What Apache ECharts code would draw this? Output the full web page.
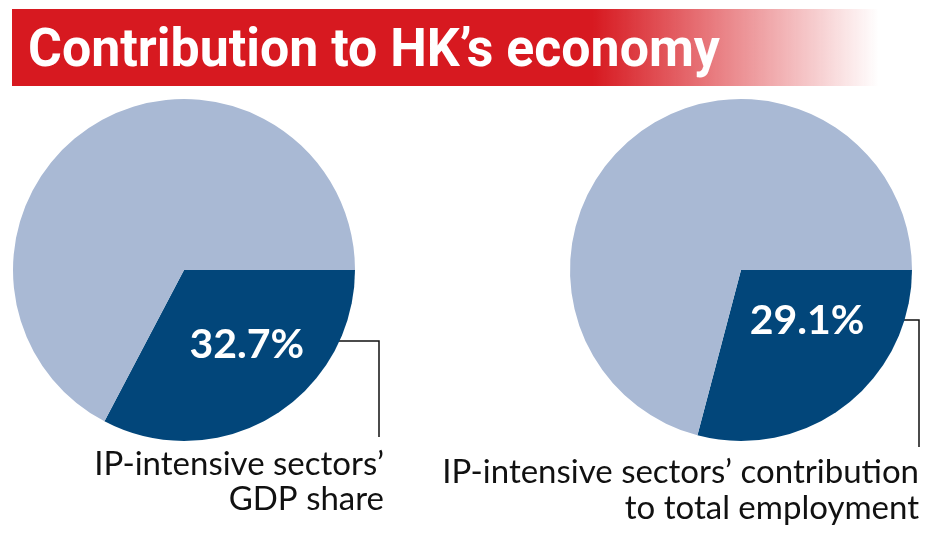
<!DOCTYPE html>
<html><head><meta charset="utf-8">
<script src="https://cdn.jsdelivr.net/npm/echarts@6/dist/echarts.min.js"></script>
<style>html,body{margin:0;padding:0;background:#fff}#c{width:936px;height:536px}</style>
</head><body><div id="c"></div>
<script>
const titleText = "Contribution to HK’s economy";
const sliceNames = ["IP-intensive sectors", "Other sectors"];
const gdpShare = [32.7, 67.3];
const employmentShare = [29.1, 70.9];
const gdpCaption = ["IP-intensive sectors’", "GDP share"];
const employmentCaption = ["IP-intensive sectors’ contribution", "to total employment"];
const sliceColors = ["#02467a", "#a9b9d4"];

const chart = echarts.init(document.getElementById('c'), null, {renderer: 'canvas'});

function pieSeries(values, center, labelOffset) {
  return {
    type: 'pie',
    center: center,
    radius: 171,
    startAngle: 0,
    clockwise: true,
    silent: true,
    animation: false,
    avoidLabelOverlap: false,
    labelLine: {show: false},
    data: values.map((v, i) => ({
      name: sliceNames[i],
      value: v,
      itemStyle: {color: sliceColors[i], borderWidth: 0},
      label: i === 0 ? {
        show: true, position: 'inside', formatter: '{c}%',
        color: '#fff', fontFamily: 'Lato', fontWeight: 'bold', fontSize: 41,
        offset: labelOffset
      } : {show: false}
    }))
  };
}

chart.setOption({
  animation: false,
  graphic: [
    {type: 'rect', shape: {x: 12, y: 9, width: 880, height: 77},
     style: {fill: new echarts.graphic.LinearGradient(0, 0, 1, 0, [
       {offset: 0, color: '#d71920'}, {offset: 0.66, color: '#d71920'},
       {offset: 0.82, color: 'rgba(215,25,32,0.5)'},
       {offset: 0.985, color: 'rgba(215,25,32,0)'},
       {offset: 1, color: 'rgba(215,25,32,0)'}])}},
    {type: 'text', x: 27, y: 52, scaleX: 0.96, originX: 27, originY: 52,
     style: {text: titleText, fill: '#fff', verticalAlign: 'middle', font: 'bold 54px Roboto, sans-serif'}},
    {type: 'polyline', shape: {points: [[318, 341], [379, 341], [379, 437]]}, style: {stroke: '#111', lineWidth: 1.5, fill: null}},
    {type: 'polyline', shape: {points: [[875, 320], [919, 320], [919, 447]]}, style: {stroke: '#111', lineWidth: 1.5, fill: null}},
    {type: 'text', x: 384, y: 447,
     style: {text: gdpCaption.join('\n'), fill: '#111', align: 'right', verticalAlign: 'top', lineHeight: 35,
       font: '33px Lato, sans-serif'}},
    {type: 'text', x: 919, y: 454,
     style: {text: employmentCaption.join('\n'), fill: '#111', align: 'right', verticalAlign: 'top', lineHeight: 36,
       font: '33px Lato, sans-serif'}}
  ],
  series: [
    pieSeries(gdpShare, [184, 270], [17, -1]),
    pieSeries(employmentShare, [741, 270], [12, -19])
  ]
});
</script></body></html>
